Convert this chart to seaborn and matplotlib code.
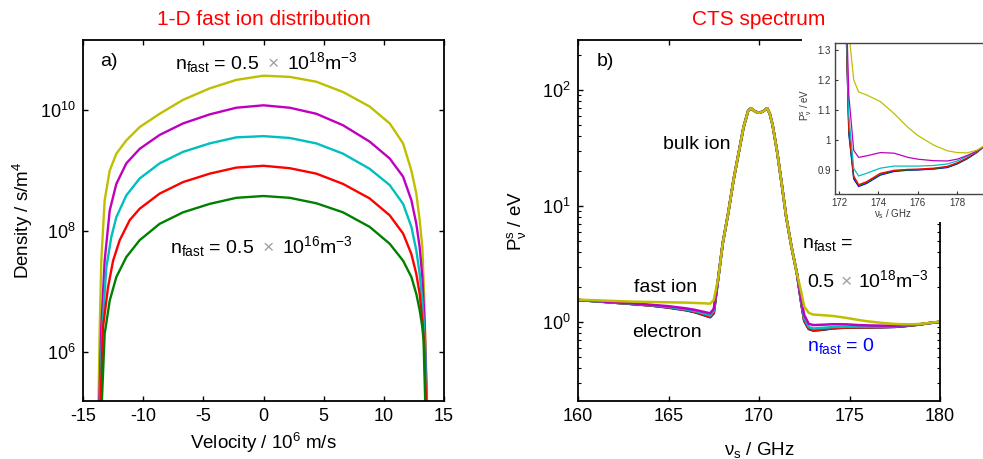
import numpy as np
import pandas as pd
import matplotlib
matplotlib.use("Agg")
import matplotlib.pyplot as plt
from matplotlib.patches import Rectangle
from matplotlib.ticker import NullLocator, FixedLocator
import seaborn as sns

# ---- panel a: 1-D fast ion distribution, log10 of density per curve ----
v_yellow = [-13.72, -13.61, -13.48, -13.2, -12.78, -12.23, -11.4, -10.29, -8.63, -6.69, -4.47,
            -2.26, 0, 2.18, 4.39, 6.61, 8.82, 10.49, 11.6, 12.29, 12.7, 12.98, 13.2, 13.34,
            13.45, 13.6]
d_yellow = [5.1, 6.41, 7.51, 8.51, 9.0, 9.28, 9.5, 9.72, 9.94, 10.17, 10.36, 10.5, 10.57,
            10.55, 10.47, 10.30, 10.06, 9.78, 9.45, 9.0, 8.62, 8.18, 7.73, 6.96, 6.19, 5.1]
v_magenta = [-13.65, -13.48, -13.2, -12.78, -12.23, -11.4, -10.29, -8.63, -6.69, -4.47, -2.26,
             0, 2.18, 4.39, 6.61, 8.82, 10.49, 11.6, 12.29, 12.7, 12.98, 13.2, 13.4, 13.58]
d_magenta = [5.1, 6.41, 7.51, 8.34, 8.78, 9.12, 9.36, 9.59, 9.78, 9.93, 10.04, 10.08, 10.04,
             9.94, 9.75, 9.48, 9.2, 8.9, 8.51, 8.12, 7.73, 7.24, 6.41, 5.1]
v_cyan = [-13.6, -13.39, -13.06, -12.65, -12.23, -11.4, -10.29, -8.63, -6.69, -4.47, -2.26,
          0, 2.18, 4.39, 6.61, 8.82, 10.49, 11.6, 12.29, 12.7, 12.98, 13.2, 13.4, 13.56]
d_cyan = [5.1, 6.41, 7.40, 7.90, 8.23, 8.59, 8.87, 9.12, 9.31, 9.45, 9.55, 9.57, 9.54, 9.45,
          9.28, 9.03, 8.76, 8.45, 8.07, 7.68, 7.29, 6.85, 6.19, 5.1]
v_red = [-13.55, -13.34, -12.92, -12.5, -11.95, -11.12, -10.29, -8.63, -6.69, -4.47, -2.26,
         0, 2.18, 4.39, 6.61, 8.82, 10.49, 11.6, 12.29, 12.7, 12.98, 13.2, 13.34, 13.52]
d_red = [5.1, 6.41, 7.07, 7.51, 7.85, 8.18, 8.37, 8.62, 8.81, 8.95, 9.05, 9.08, 9.04, 8.95,
         8.78, 8.54, 8.26, 7.96, 7.62, 7.29, 6.96, 6.52, 6.19, 5.1]
v_green = [-13.45, -13.2, -12.78, -12.23, -11.4, -10.29, -8.63, -6.69, -4.47, -2.26, 0, 2.18,
           4.39, 6.61, 8.82, 10.49, 11.6, 12.29, 12.7, 12.98, 13.2, 13.3, 13.45]
d_green = [5.1, 6.3, 6.85, 7.24, 7.57, 7.85, 8.12, 8.31, 8.45, 8.55, 8.58, 8.55, 8.46, 8.31,
           8.07, 7.79, 7.51, 7.24, 6.96, 6.69, 6.41, 6.19, 5.1]

# ---- panel b: CTS spectrum ----
freq_left = [160, 161, 162, 163, 164, 165, 166, 166.5, 167, 167.3, 167.5]
freq_peak = [167.75, 168.0, 168.3, 168.6, 168.9, 169.15, 169.4, 169.55, 169.8, 170.0, 170.2,
             170.45, 170.6, 170.75, 171.0, 171.25, 171.5, 171.8, 172.1]
freq_right = [172.35, 172.5, 172.75, 173.0, 173.4, 174.1, 174.8, 175.5, 176.0, 176.8, 177.5,
              178.0, 178.5, 179.0, 179.3, 180.0]
peak_vals = [2.4, 4.8, 8.7, 17, 30, 48, 66, 69.5, 65, 63.5, 65, 69.5, 62, 50, 29.5, 15.7,
             8.1, 4.4, 2.6]

left_yellow = [1.56, 1.54, 1.52, 1.50, 1.49, 1.48, 1.47, 1.46, 1.45, 1.44, 1.55]
left_magenta = [1.55, 1.52, 1.48, 1.45, 1.41, 1.37, 1.31, 1.27, 1.22, 1.19, 1.3]
left_cyan = [1.55, 1.51, 1.47, 1.44, 1.40, 1.35, 1.28, 1.24, 1.18, 1.14, 1.25]
left_red = [1.55, 1.51, 1.47, 1.43, 1.39, 1.34, 1.27, 1.22, 1.15, 1.11, 1.2]
left_green = [1.55, 1.51, 1.47, 1.43, 1.39, 1.34, 1.27, 1.22, 1.15, 1.11, 1.2]
left_blue = [1.55, 1.51, 1.47, 1.43, 1.39, 1.33, 1.26, 1.21, 1.14, 1.10, 1.19]

right_yellow = [1.77, 1.36, 1.2, 1.16, 1.15, 1.128, 1.088, 1.042, 1.015, 0.983, 0.964,
                0.958, 0.957, 0.966, 0.978, 1.01]
right_magenta = [1.5, 1.15, 0.965, 0.942, 0.947, 0.958, 0.956, 0.942, 0.936, 0.931, 0.93,
                 0.936, 0.948, 0.963, 0.976, 1.005]
right_cyan = [1.45, 1.08, 0.905, 0.88, 0.889, 0.906, 0.913, 0.913, 0.913, 0.915, 0.92,
              0.93, 0.945, 0.962, 0.976, 1.005]
right_red = [1.42, 1.04, 0.88, 0.851, 0.861, 0.889, 0.899, 0.902, 0.903, 0.906, 0.912,
             0.924, 0.94, 0.96, 0.975, 1.005]
right_green = [1.41, 1.03, 0.875, 0.848, 0.858, 0.886, 0.897, 0.9, 0.901, 0.904, 0.91,
               0.922, 0.938, 0.959, 0.975, 1.005]
right_blue = [1.4, 1.02, 0.87, 0.845, 0.855, 0.883, 0.895, 0.899, 0.9, 0.903, 0.908,
              0.92, 0.937, 0.958, 0.975, 1.005]

colors = {"y": "#bfbf00", "m": "#bf00bf", "c": "#00bfbf", "r": "#ff0000",
          "g": "#008000", "b": "#0000ff"}

sns.set_theme(style="ticks")
plt.rcParams["font.family"] = ["Liberation Sans", "DejaVu Sans"]
plt.rcParams["mathtext.fontset"] = "custom"
plt.rcParams["mathtext.rm"] = "Liberation Sans"
plt.rcParams["mathtext.it"] = "Liberation Sans:italic"
plt.rcParams["axes.unicode_minus"] = False
plt.rcParams["axes.linewidth"] = 1.3
plt.rcParams["axes.edgecolor"] = "black"
plt.rcParams["text.color"] = "black"
plt.rcParams["axes.labelcolor"] = "black"
plt.rcParams["xtick.color"] = "black"
plt.rcParams["ytick.color"] = "black"

# long tables for seaborn
rows = []
for key, vv, dd in [("y", v_yellow, d_yellow), ("m", v_magenta, d_magenta),
                    ("c", v_cyan, d_cyan), ("r", v_red, d_red), ("g", v_green, d_green)]:
    for v, d in zip(vv, dd):
        rows.append({"v": v, "dens": 10 ** d, "curve": key})
df_a = pd.DataFrame(rows)

freq = freq_left + freq_peak + freq_right
rows = []
for key, lft, rgt in [("b", left_blue, right_blue), ("g", left_green, right_green),
                      ("r", left_red, right_red), ("c", left_cyan, right_cyan),
                      ("m", left_magenta, right_magenta), ("y", left_yellow, right_yellow)]:
    for f, p in zip(freq, lft + peak_vals + rgt):
        rows.append({"f": f, "P": p, "curve": key})
df_b = pd.DataFrame(rows)

fig = plt.figure(figsize=(9.83, 4.59), dpi=100)
ax1 = fig.add_axes([83 / 983, 1 - 401 / 459, 361 / 983, 361 / 459])
ax2 = fig.add_axes([578 / 983, 1 - 401 / 459, 362 / 983, 361 / 459])

times = dict(ha="center", color="#a0a0a0", fontsize=14, va="baseline")

# panel a
sns.lineplot(data=df_a, x="v", y="dens", hue="curve", hue_order=["y", "m", "c", "r", "g"],
             palette=colors, errorbar=None, legend=False, lw=1.7, ax=ax1)
ax1.set_yscale("log")
ax1.set_xlim(-15, 15)
ax1.set_ylim(10 ** 5.19, 10 ** 11.16)
ax1.set_xticks([-15, -10, -5, 0, 5, 10, 15])
ax1.yaxis.set_major_locator(FixedLocator([1e6, 1e8, 1e10]))
ax1.yaxis.set_minor_locator(NullLocator())
ax1.set_title("1-D fast ion distribution", color="red", fontsize=15, pad=11)
ax1.set_xlabel("Velocity / 10$^{6}$ m/s", fontsize=13.5)
ax1.set_ylabel("Density / s/m$^{4}$", fontsize=13.5)
ax1.xaxis.set_label_coords(0.5, -0.083)
ax1.yaxis.set_label_coords(-0.133, 0.5)

txt = dict(fontsize=14, va="baseline")
ax1.text(-13.59, 10 ** 10.73, "a)", **txt)
ax1.text(-7.35, 10 ** 10.68, "n$_{\\rm fast}$ = 0.5", ha="left", **txt)
ax1.text(0.79, 10 ** 10.68, "×", **times)
ax1.text(1.96, 10 ** 10.68, "10$^{18}$m$^{-3}$", ha="left", **txt)
ax1.text(-7.77, 10 ** 7.64, "n$_{\\rm fast}$ = 0.5", ha="left", **txt)
ax1.text(0.37, 10 ** 7.64, "×", **times)
ax1.text(1.54, 10 ** 7.64, "10$^{16}$m$^{-3}$", ha="left", **txt)

# panel b
sns.lineplot(data=df_b, x="f", y="P", hue="curve", hue_order=["b", "g", "r", "c", "m", "y"],
             palette=colors, errorbar=None, legend=False, lw=1.8, ax=ax2)
ax2.set_yscale("log")
ax2.set_xlim(160, 180)
ax2.set_ylim(10 ** -0.68, 10 ** 2.43)
ax2.set_xticks([160, 165, 170, 175, 180])
ax2.set_title("CTS spectrum", color="red", fontsize=15, pad=11)
ax2.set_xlabel("ν$_{\\rm s}$ / GHz", fontsize=13.5)
ax2.set_ylabel("P$^{\\rm s}_{\\rm ν}$ / eV", fontsize=13.5)
ax2.xaxis.set_label_coords(0.5, -0.108)
ax2.yaxis.set_label_coords(-0.138, 0.5)

ax2.text(161.05, 161, "b)", **txt)
ax2.text(164.7, 31, "bulk ion", **txt)
ax2.text(163.09, 1.81, "fast ion", **txt)
ax2.text(162.98, 0.743, "electron", **txt)
ax2.text(172.38, 4.34, "n$_{\\rm fast}$ =", **txt)
ax2.text(172.65, 2.0, "0.5", **txt)
ax2.text(174.8, 2.0, "×", **times)
ax2.text(175.47, 2.0, "10$^{18}$m$^{-3}$", **txt)
ax2.text(172.65, 0.5625, "n$_{\\rm fast}$ = 0", color="blue", **txt)

for ax in (ax1, ax2):
    ax.tick_params(which="major", direction="in", length=3.5, width=1, top=True, right=True,
                   labelsize=13, pad=5, color="black")
    ax.tick_params(which="minor", direction="in", length=2, width=0.8, top=True, right=True)
    ax.set_facecolor("white")

# white box behind the inset
fig.add_artist(Rectangle((802 / 983, 1 - 222 / 459), 0.2, (222 - 37) / 459,
                         transform=fig.transFigure, facecolor="white", edgecolor="none", zorder=1))

# inset
ax3 = fig.add_axes([835 / 983, 1 - 194 / 459, 161.6 / 983, 151 / 459])
ax3.set_zorder(2)
sns.lineplot(data=df_b, x="f", y="P", hue="curve", hue_order=["b", "g", "r", "c", "m", "y"],
             palette=colors, errorbar=None, legend=False, lw=0.9, ax=ax3)
ax3.set_xlim(171.8, 180)
ax3.set_ylim(0.82, 1.323)
ax3.set_xticks([172, 174, 176, 178])
ax3.set_yticks([0.9, 1.0, 1.1, 1.2, 1.3])
ax3.set_yticklabels(["0.9", "1", "1.1", "1.2", "1.3"])
ax3.tick_params(direction="in", length=2, width=0.8, labelsize=7, pad=3, colors="#333333")
for sp in ax3.spines.values():
    sp.set_color("#444444")
    sp.set_linewidth(1.0)
ax3.set_xlabel("ν$_{\\rm s}$ / GHz", fontsize=7, color="#333333")
ax3.set_ylabel("P$^{\\rm s}_{\\rm ν}$ / eV", fontsize=7, color="#333333")
ax3.xaxis.set_label_coords(0.359, -0.09)
ax3.yaxis.set_label_coords(-0.13, 0.59)

fig.savefig("out.png", dpi=100, facecolor="white")
